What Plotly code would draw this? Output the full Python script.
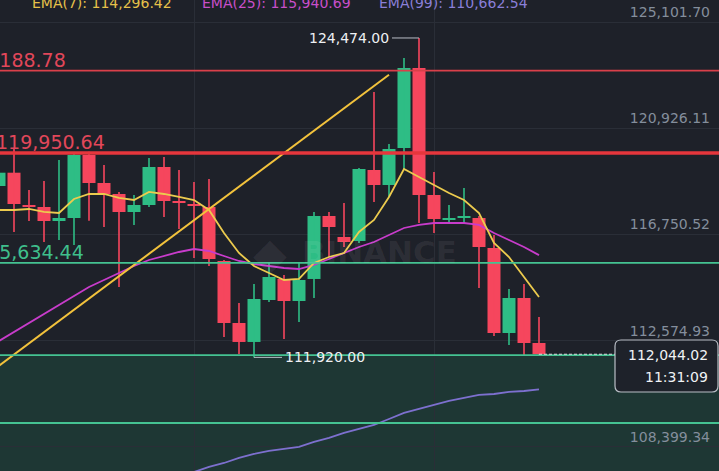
import plotly.graph_objects as go

# ---------------- data ----------------
idx = list(range(37))
open_ = [118656, 119179, 117910, 117831, 117281, 117399, 119875, 118774, 118342, 117635,
         117910, 119403, 118067, 117949, 117831, 115709, 113272, 112526, 114176, 115002,
         114137, 115002, 117478, 116652, 116495, 119285, 118696, 120150, 123294, 118303,
         117320, 117399, 117399, 116220, 112879, 114255, 112486]
high = [119364, 120150, 118499, 118853, 119678, 119992, 120004, 119482, 118421, 118303,
        119757, 119796, 119285, 118813, 118931, 115748, 114058, 114805, 115670, 115159,
        115670, 117635, 117635, 117988, 119364, 122350, 120307, 123687, 124474.00, 119206,
        117910, 118578, 117478, 116731, 114609, 114805, 113508]
low = [118499, 116850, 117281, 116456, 116534, 116338, 117290, 117045, 114687, 117124,
       117831, 117438, 116966, 115827, 115512, 112722, 112054, 111920.00, 114098, 112644,
       113312, 114255, 115866, 116259, 116416, 118028, 118224, 119285, 117202, 116809,
       117202, 117202, 114648, 112761, 112408, 112015, 112015]
close = [119179, 117949, 117831, 117281, 117399, 119875, 118774, 118342, 117635, 117910,
         119403, 118067, 117988, 117870, 115788, 113272, 112526, 114216, 115080, 114137,
         114962, 117478, 117045, 116456, 119324, 118696, 120110, 123294, 118303, 117360,
         117399, 117438, 116259, 112879, 114255, 112486, 112044.02]

ema7 = [117713, 117713, 117753, 117635, 117595, 118145, 118342, 118342, 118185, 118106,
        118421, 118342, 118224, 118106, 117713, 116809, 116023, 115512, 115237, 114962,
        115002, 115630, 115866, 116023, 116849, 117320, 118224, 119324, 119010, 118696,
        118381, 118106, 117595, 116416, 115866, 115080, 114296.42]
ema25 = [112565, 112919, 113272, 113626, 113980, 114333, 114687, 114962, 115237, 115512,
         115748, 115905, 116062, 116180, 116102, 115905, 115709, 115591, 115512, 115434,
         115394, 115552, 115788, 116023, 116259, 116456, 116731, 117006, 117124, 117202,
         117202, 117202, 117124, 116809, 116534, 116259, 115940.69]
ema99 = [None] * 12 + [107298, 107416, 107613, 107770, 107967, 108124, 108242, 108321,
                       108400, 108596, 108753, 108950, 109107, 109264, 109500, 109736,
                       109893, 110050, 110207, 110325, 110443, 110482, 110561, 110600,
                       110662.54]

ema_labels = ["EMA(7): 114,296.42", "EMA(25): 115,940.69", "EMA(99): 110,662.54"]

y_ticks = [125101.70, 120926.11, 116750.52, 112574.93, 108399.34]
red_levels = [123188.78, 119950.64]
green_levels = [115634.44, 112010, 109342]
trend_x = [0, 26]
trend_y = [111594, 123027]

last_price = 112044.02
countdown = "11:31:09"
high_mark = (28, 124474.00)
low_mark = (17, 111920.00)

# ---------------- style ----------------
BG = "#1e2129"
GRID = "#2a2e37"
UP = "#2ebd85"
DOWN = "#f6465d"
FONT = "DejaVu Sans"
Y_RANGE = [107455, 125966.3]
X_RANGE = [1 / 15, 48]
PX = (X_RANGE[1] - X_RANGE[0]) / 719  # data units per pixel (x)

fig = go.Figure()

# teal zone below the support line
fig.add_shape(type="rect", xref="paper", x0=0, x1=1, yref="y", y0=Y_RANGE[0],
              y1=green_levels[1], fillcolor="#1e3734", line_width=0, layer="below")

# candles
for up, col in [(True, UP), (False, DOWN)]:
    sel = [i for i in idx if (close[i] >= open_[i]) == up]
    fig.add_trace(go.Bar(
        x=sel,
        base=[min(open_[i], close[i]) for i in sel],
        y=[max(abs(close[i] - open_[i]), 35) for i in sel],
        width=13 / 15, marker=dict(color=col, line_width=0), hoverinfo="skip"))
    wx, wy = [], []
    for i in sel:
        wx += [i, i, None]
        wy += [low[i], high[i], None]
    fig.add_trace(go.Scatter(x=wx, y=wy, mode="lines", line=dict(color=col, width=1.6),
                             hoverinfo="skip"))

# EMA lines
fig.add_trace(go.Scatter(x=idx, y=ema25, mode="lines", line=dict(color="#c83ccb", width=1.8)))
fig.add_trace(go.Scatter(x=idx, y=ema99, mode="lines", line=dict(color="#7d70cf", width=1.8)))
fig.add_trace(go.Scatter(x=idx, y=ema7, mode="lines", line=dict(color="#eccb4e", width=1.8)))

# trend line
fig.add_trace(go.Scatter(x=trend_x, y=trend_y, mode="lines",
                         line=dict(color="#f2c23c", width=2)))

# horizontal levels
fig.add_shape(type="line", xref="paper", x0=0, x1=1, y0=red_levels[0], y1=red_levels[0],
              line=dict(color="#d9404a", width=1.8))
fig.add_shape(type="line", xref="paper", x0=0, x1=1, y0=red_levels[1], y1=red_levels[1],
              line=dict(color="#e6363c", width=3.5))
for lv in green_levels:
    fig.add_shape(type="line", xref="paper", x0=0, x1=1, y0=lv, y1=lv,
                  line=dict(color="#45c392", width=1.8))

# level labels (cut by the left edge, as in the screenshot)
for lv, right_px, col in [(red_levels[0], 68, "#e2475a"), (red_levels[1], 107, "#e2475a"),
                          (green_levels[0], 86, "#3fbf8c")]:
    fig.add_annotation(xref="paper", x=right_px / 719, y=lv, xanchor="right", yanchor="bottom",
                       text=f"{lv:,.2f}", showarrow=False, yshift=-2,
                       font=dict(family=FONT, size=19, color=col))

# dashed last price line
fig.add_shape(type="line", x0=idx[-1], x1=616 / 15, y0=last_price, y1=last_price,
              line=dict(color="#d8dce2", width=1, dash="3px,2px"))

# price box with rounded corners
bx0, bx1 = 615 / 719, 718 / 719
by0, by1 = 1 - 392 / 471, 1 - 340 / 471
rx, ry = 6 / 719, 6 / 471
path = (f"M {bx0 + rx},{by1} L {bx1 - rx},{by1} Q {bx1},{by1} {bx1},{by1 - ry} "
        f"L {bx1},{by0 + ry} Q {bx1},{by0} {bx1 - rx},{by0} L {bx0 + rx},{by0} "
        f"Q {bx0},{by0} {bx0},{by0 + ry} L {bx0},{by1 - ry} Q {bx0},{by1} {bx0 + rx},{by1} Z")
fig.add_shape(type="path", xref="paper", yref="paper", path=path, fillcolor="#1e222a",
              line=dict(color="#b9bec6", width=1.2))
fig.add_annotation(xref="paper", yref="paper", x=710 / 719, y=1 - 355 / 471, xanchor="right",
                   yanchor="middle", text=f"{last_price:,.2f}", showarrow=False,
                   font=dict(family=FONT, size=14, color="#f0f2f5"))
fig.add_annotation(xref="paper", yref="paper", x=710 / 719, y=1 - 377 / 471, xanchor="right",
                   yanchor="middle", text=countdown, showarrow=False,
                   font=dict(family=FONT, size=14, color="#f0f2f5"))

# high / low markers
hx, hy = high_mark
fig.add_shape(type="line", x0=hx - 27 * PX, x1=hx, y0=hy, y1=hy,
              line=dict(color="#b9bec6", width=1))
fig.add_annotation(x=hx - 28 * PX, y=hy, xanchor="right", yanchor="middle",
                   text=f"{hy:,.2f}", showarrow=False,
                   font=dict(family=FONT, size=14, color="#eef0f3"))
lx, ly = low_mark
fig.add_shape(type="line", x0=lx, x1=lx + 28 * PX, y0=ly, y1=ly,
              line=dict(color="#b9bec6", width=1))
fig.add_annotation(x=lx + 29 * PX, y=ly, xanchor="left", yanchor="middle",
                   text=f"{ly:,.2f}", showarrow=False,
                   font=dict(family=FONT, size=14, color="#eef0f3"))

# EMA legend at top
for txt, xl, col in zip(ema_labels, [30, 200, 377], ["#e6c14a", "#c94fc9", "#8a7fd8"]):
    fig.add_annotation(xref="paper", yref="paper", x=xl / 719, y=1, xanchor="left",
                       yanchor="middle", yshift=-2.5, text=txt, showarrow=False,
                       font=dict(family=FONT, size=14, color=col))

# watermark
fig.add_annotation(xref="paper", yref="paper", x=270 / 719, y=1 - 253 / 471, xanchor="center",
                   yanchor="middle", text="◆", showarrow=False,
                   font=dict(family=FONT, size=44, color="rgba(255,255,255,0.07)"))
fig.add_annotation(xref="paper", yref="paper", x=300 / 719, y=1 - 252 / 471, xanchor="left",
                   yanchor="middle", text="<b>BINANCE</b>", showarrow=False,
                   font=dict(family=FONT, size=31, color="rgba(255,255,255,0.07)"))

fig.update_layout(
    width=719, height=471, margin=dict(l=0, r=0, t=0, b=0),
    paper_bgcolor=BG, plot_bgcolor=BG, showlegend=False, barmode="overlay",
    xaxis=dict(range=X_RANGE, tickvals=[13, 29], showticklabels=False, showgrid=True,
               gridcolor=GRID, gridwidth=1, zeroline=False, showline=False, ticks=""),
    yaxis=dict(range=Y_RANGE, side="right", tickvals=y_ticks,
               ticktext=[f"{v:,.2f}" for v in y_ticks], ticklabelposition="inside",
               ticklabelstandoff=6, ticklabelshift=-10,
               tickfont=dict(family=FONT, size=14, color="#848e9c"), showgrid=True,
               gridcolor=GRID, gridwidth=1, zeroline=False, showline=False, ticks=""),
)

fig.write_html(
    "out.html",
    config={"displayModeBar": False},
    post_script="document.body.style.margin='0px';document.body.style.overflow='hidden';",
)
